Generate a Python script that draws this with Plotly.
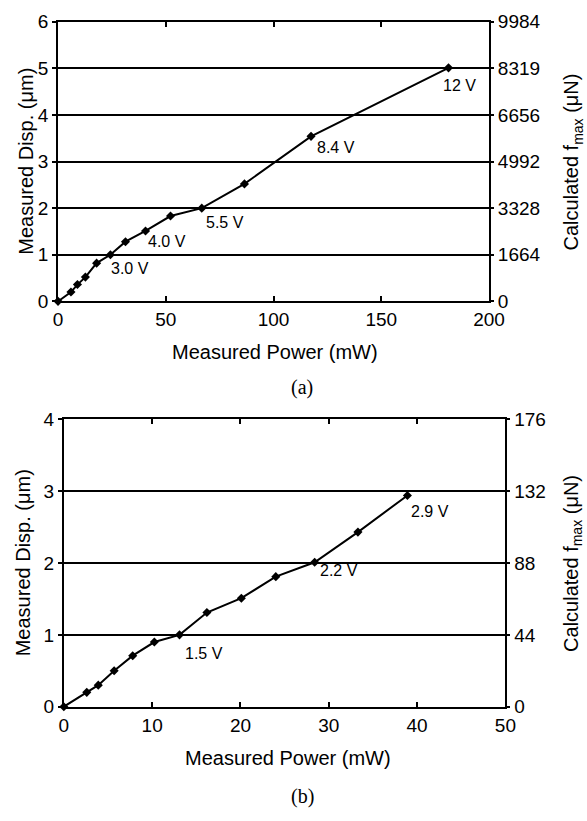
import plotly.graph_objects as go

# ---------------- data ----------------
# Panel (a)
power_a = [0, 6, 9, 12.7, 17.9, 24.3, 31.3, 40.6, 52.2, 66.7, 86.5, 117.4, 181.2]
disp_a = [0, 0.2, 0.36, 0.52, 0.82, 1.0, 1.28, 1.51, 1.83, 2.0, 2.52, 3.54, 5.01]
volt_idx_a = [5, 7, 9, 11, 12]
volt_text_a = ["3.0 V", "4.0 V", "5.5 V", "8.4 V", "12 V"]
power_ticks_a = [0, 50, 100, 150, 200]
disp_ticks_a = [0, 1, 2, 3, 4, 5, 6]
force_ticks_a = [0, 1664, 3328, 4992, 6656, 8319, 9984]

# Panel (b)
power_b = [0, 2.6, 3.9, 5.7, 7.8, 10.25, 13.1, 16.2, 20.1, 24.0, 28.4, 33.3, 38.9]
disp_b = [0, 0.2, 0.3, 0.5, 0.71, 0.9, 1.0, 1.31, 1.51, 1.81, 2.01, 2.43, 2.94]
volt_idx_b = [6, 10, 12]
volt_text_b = ["1.5 V", "2.2 V", "2.9 V"]
power_ticks_b = [0, 10, 20, 30, 40, 50]
disp_ticks_b = [0, 1, 2, 3, 4]
force_ticks_b = [0, 44, 88, 132, 176]

# ---------------- style ----------------
W, H = 587, 821
SANS = "Liberation Sans, Arial, Helvetica, sans-serif"
SERIF = "Liberation Serif, Times New Roman, serif"
TICK = 19
TITLE = 20
LBL = 16
shift_a = [(-1, -3), (0, 0), (2, -4), (4, -1), (-8, -7)]
shift_b = [(3, -8), (3, 2), (2, -6)]

fig = go.Figure()

line = dict(color="black", width=2)
marker = dict(symbol="diamond", size=7, color="black")

fig.add_trace(go.Scatter(x=power_a, y=disp_a, mode="lines+markers", line=line,
                         marker=marker, xaxis="x", yaxis="y", cliponaxis=False,
                         showlegend=False))
fig.add_trace(go.Scatter(x=power_b, y=disp_b, mode="lines+markers", line=line,
                         marker=marker, xaxis="x2", yaxis="y3", cliponaxis=False,
                         showlegend=False))
# invisible traces so the right-hand (force) axes are drawn
fig.add_trace(go.Scatter(x=[power_ticks_a[0]] * len(force_ticks_a), y=force_ticks_a,
                         mode="markers", marker=dict(opacity=0), hoverinfo="skip",
                         xaxis="x", yaxis="y2", showlegend=False))
fig.add_trace(go.Scatter(x=[power_ticks_b[0]] * len(force_ticks_b), y=force_ticks_b,
                         mode="markers", marker=dict(opacity=0), hoverinfo="skip",
                         xaxis="x2", yaxis="y4", showlegend=False))


def xax(domain, rng, vals, anchor):
    return dict(domain=domain, range=rng, tickvals=vals, anchor=anchor,
                ticks="inside", ticklen=5, tickwidth=2, tickcolor="black",
                showline=True, linewidth=2, linecolor="black", mirror="ticks",
                showgrid=False, zeroline=False,
                tickfont=dict(family=SANS, size=TICK, color="black"))


def yax(domain, rng, vals, anchor):
    return dict(domain=domain, range=rng, tickvals=vals, anchor=anchor,
                ticks="outside", ticklen=4, tickwidth=2, tickcolor="black",
                showline=True, linewidth=2, linecolor="black", mirror=True,
                showgrid=True, gridcolor="black", gridwidth=1.5, zeroline=False,
                tickfont=dict(family=SANS, size=TICK, color="black"))


def yright(rng, vals, over, anchor):
    return dict(range=rng, tickvals=vals, ticktext=[str(v) for v in vals],
                overlaying=over, side="right", anchor=anchor,
                ticks="outside", ticklen=4, tickwidth=2, tickcolor="black",
                showline=False, showgrid=False, zeroline=False,
                tickfont=dict(family=SANS, size=TICK, color="black"))


dom_xa = [55 / W, 502 / W]
dom_ya = [1 - 299 / H, 1 - 12 / H]
dom_xb = [61 / W, 519 / W]
dom_yb = [1 - 715 / H, 1 - 420 / H]

annotations = []
for i, (k, t) in enumerate(zip(volt_idx_a, volt_text_a)):
    annotations.append(dict(x=power_a[k], y=disp_a[k], xref="x", yref="y", text=t,
                            showarrow=False, xanchor="left", yanchor="top",
                            xshift=shift_a[i][0], yshift=shift_a[i][1],
                            font=dict(family=SANS, size=LBL, color="black")))
for i, (k, t) in enumerate(zip(volt_idx_b, volt_text_b)):
    annotations.append(dict(x=power_b[k], y=disp_b[k], xref="x2", yref="y3", text=t,
                            showarrow=False, xanchor="left", yanchor="top",
                            xshift=shift_b[i][0], yshift=shift_b[i][1],
                            font=dict(family=SANS, size=LBL, color="black")))


def pa(text, x, y, angle=0, font=SANS, size=TITLE):
    return dict(text=text, x=x / W, y=1 - y / H, xref="paper", yref="paper",
                showarrow=False, xanchor="center", yanchor="middle", textangle=angle,
                font=dict(family=font, size=size, color="black"))


annotations += [
    pa("Measured Power (mW)", 280, 351),
    pa("Measured Disp. (\u03bcm)", 21, 155.5, -90),
    pa("Calculated f<sub>max</sub> (\u03bcN)", 589, 155.5, -90),
    pa("(a)", 308, 387, font=SERIF, size=20),
    pa("Measured Power (mW)", 293, 768),
    pa("Measured Disp. (\u03bcm)", 19, 567.5, -90),
    pa("Calculated f<sub>max</sub> (\u03bcN)", 589, 567.5, -90),
    pa("(b)", 309, 807, font=SERIF, size=20),
]

fig.update_layout(
    width=W, height=H,
    margin=dict(l=0, r=0, t=0, b=0),
    paper_bgcolor="white", plot_bgcolor="white",
    showlegend=False,
    xaxis=xax(dom_xa, [0, 200], power_ticks_a, "y"),
    yaxis=yax(dom_ya, [0, 6], disp_ticks_a, "x"),
    yaxis2=yright([0, 9984], force_ticks_a, "y", "x"),
    xaxis2=xax(dom_xb, [0, 50], power_ticks_b, "y3"),
    yaxis3=yax(dom_yb, [0, 4], disp_ticks_b, "x2"),
    yaxis4=yright([0, 176], force_ticks_b, "y3", "x2"),
    annotations=annotations,
)

fig.write_html("out.html")
